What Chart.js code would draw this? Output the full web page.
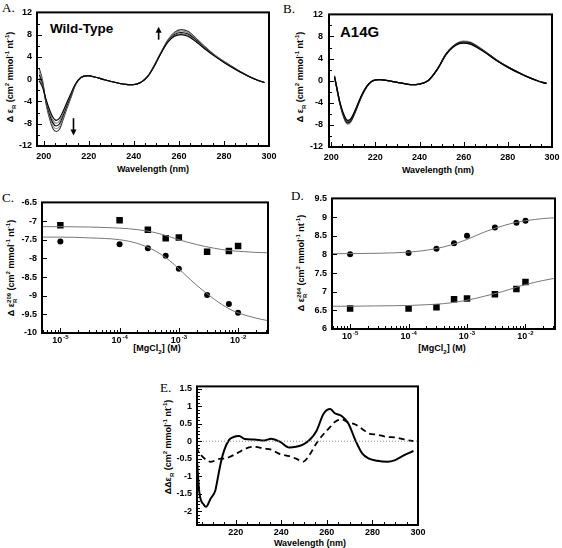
<!DOCTYPE html>
<html>
<head>
<meta charset="utf-8">
<script src="https://cdn.jsdelivr.net/npm/chart.js@4.4.1/dist/chart.umd.min.js"></script>
<style>
  body { margin: 0; background: #fff; width: 562px; height: 548px; position: relative; overflow: hidden; }
  canvas { position: absolute; }
  .lbl { position: absolute; font: 13px "Liberation Serif", "Times New Roman", serif; color: #000; }
  .big { position: absolute; font: bold 14px "Liberation Sans", Arial, sans-serif; color: #000; }
  .tt { position: absolute; font: bold 9px "Liberation Sans", Arial, sans-serif; color: #000; white-space: nowrap; transform: translate(-50%, -50%); }
  .yt { transform: translate(-50%, -50%) rotate(-90deg); }
  .tt sub, .tt sup { font-size: 6px; line-height: 0; }
  .st { display: inline-block; vertical-align: middle; font-size: 6px; line-height: 6px; }
  .st span { display: block; }
</style>
</head>
<body>
<div class="lbl" style="left:2px;top:0px">A.</div>
<div class="lbl" style="left:283px;top:1px">B.</div>
<div class="lbl" style="left:2px;top:190px">C.</div>
<div class="lbl" style="left:291px;top:188px">D.</div>
<div class="lbl" style="left:160px;top:380px">E.</div>

<div class="big" style="left:50px;top:21px;font-size:13.5px">Wild-Type</div>
<div class="big" style="left:340px;top:23px;font-size:15px">A14G</div>

<div class="tt yt" style="left:10px;top:77px">Δ ε<sub>R</sub> (cm<sup>2</sup> mmol<sup>-1</sup> nt<sup>-1</sup>)</div>
<div class="tt yt" style="left:300px;top:77px">Δ ε<sub>R</sub> (cm<sup>2</sup> mmol<sup>-1</sup> nt<sup>-1</sup>)</div>
<div class="tt yt" style="left:12px;top:268px">Δ ε<span class="st"><span>209</span><span>R</span></span> (cm<sup>2</sup> mmol<sup>-1</sup> nt<sup>-1</sup>)</div>
<div class="tt yt" style="left:302px;top:263px">Δ ε<span class="st"><span>264</span><span>R</span></span> (cm<sup>2</sup> mmol<sup>-1</sup> nt<sup>-1</sup>)</div>
<div class="tt yt" style="left:168px;top:447px">ΔΔε<sub>R</sub> (cm<sup>2</sup> mmol<sup>-1</sup> nt<sup>-1</sup>)</div>

<div class="tt" style="left:153px;top:169px">Wavelength (nm)</div>
<div class="tt" style="left:438px;top:170px">Wavelength (nm)</div>
<div class="tt" style="left:157px;top:348px">[MgCl<sub>2</sub>] (M)</div>
<div class="tt" style="left:442px;top:348px">[MgCl<sub>2</sub>] (M)</div>
<div class="tt" style="left:310px;top:543px">Wavelength (nm)</div>

<script>
// ---- data ----
// A: wild-type spectra
const aWave = [198, 199.5, 201, 202.5, 204, 205.5, 207, 208.5, 210, 212, 214, 216.5, 219.5, 223, 227, 231, 235, 239.5, 243, 246, 249, 252, 255, 258, 261, 264, 268, 272, 276, 280, 284, 288, 292, 295, 298];
const aWt1 = [-0.3, -1.5, -3.6, -5.4, -6.8, -7.4, -7.0, -5.8, -4.4, -2.6, -0.9, 0.3, 0.65, 0.35, -0.1, -0.5, -0.85, -1.0, -0.6, 0.4, 2.3, 4.6, 6.6, 7.7, 8.0, 7.7, 6.6, 5.3, 4.1, 3.0, 2.0, 1.1, 0.3, -0.2, -0.6];
const aWt2 = [0.2, -1.2, -3.8, -5.8, -7.3, -7.9, -7.5, -6.2, -4.7, -2.8, -0.95, 0.3, 0.65, 0.35, -0.1, -0.5, -0.85, -1.0, -0.6, 0.4, 2.3, 4.6, 6.7, 7.85, 8.2, 7.9, 6.75, 5.4, 4.15, 3.05, 2.05, 1.1, 0.3, -0.2, -0.6];
const aWt3 = [0.8, -0.9, -4.0, -6.2, -7.8, -8.4, -8.0, -6.6, -5.0, -3.0, -1.0, 0.3, 0.65, 0.35, -0.1, -0.5, -0.85, -1.0, -0.6, 0.4, 2.35, 4.7, 6.8, 8.0, 8.4, 8.1, 6.9, 5.5, 4.2, 3.1, 2.1, 1.15, 0.3, -0.2, -0.6];
const aWt4 = [1.4, -0.6, -4.2, -6.6, -8.3, -8.9, -8.5, -7.0, -5.3, -3.2, -1.05, 0.3, 0.65, 0.35, -0.1, -0.5, -0.85, -1.0, -0.6, 0.45, 2.4, 4.75, 6.9, 8.2, 8.65, 8.35, 7.05, 5.6, 4.25, 3.15, 2.15, 1.2, 0.35, -0.2, -0.6];
const aWt5 = [2.0, -0.3, -4.4, -7.0, -8.8, -9.4, -9.0, -7.4, -5.6, -3.4, -1.1, 0.3, 0.65, 0.35, -0.1, -0.5, -0.85, -1.0, -0.6, 0.45, 2.45, 4.8, 7.0, 8.4, 8.9, 8.6, 7.2, 5.7, 4.3, 3.2, 2.2, 1.2, 0.35, -0.2, -0.6];

// B: A14G spectra
const bWave = [201.5, 202.5, 204, 206, 207.5, 209, 211, 213, 215, 217, 219, 222, 225, 228, 232, 236, 240, 244, 248, 252, 255, 258, 260, 263, 266, 270, 275, 280, 285, 290, 294, 297.5];
const bMg1 = [0.6, -1.2, -4.0, -6.4, -7.2, -6.8, -5.2, -3.3, -1.7, -0.6, 0.0, 0.2, 0.05, -0.15, -0.45, -0.7, -0.6, 0.05, 2.0, 4.7, 6.0, 6.7, 6.8, 6.6, 6.0, 5.0, 3.6, 2.4, 1.4, 0.5, -0.1, -0.5];
const bMg2 = [0.7, -1.2, -4.1, -6.6, -7.45, -7.0, -5.35, -3.4, -1.75, -0.6, 0.0, 0.2, 0.05, -0.15, -0.45, -0.7, -0.6, 0.05, 2.0, 4.75, 6.1, 6.8, 6.9, 6.7, 6.1, 5.1, 3.65, 2.45, 1.4, 0.5, -0.1, -0.5];
const bMg3 = [0.8, -1.3, -4.2, -6.8, -7.65, -7.2, -5.5, -3.5, -1.8, -0.6, 0.0, 0.2, 0.05, -0.15, -0.45, -0.7, -0.6, 0.05, 2.05, 4.8, 6.15, 6.9, 7.0, 6.85, 6.2, 5.15, 3.7, 2.5, 1.45, 0.5, -0.1, -0.5];
const bMg4 = [0.9, -1.3, -4.3, -7.0, -7.85, -7.4, -5.6, -3.6, -1.85, -0.6, 0.0, 0.2, 0.05, -0.15, -0.45, -0.7, -0.6, 0.05, 2.05, 4.85, 6.2, 7.0, 7.15, 7.0, 6.3, 5.2, 3.75, 2.5, 1.45, 0.5, -0.1, -0.5];

// C, D: titrations with MgCl2 (M)
const mgConc = [1e-5, 1e-4, 3e-4, 6e-4, 1e-3, 3e-3, 7e-3, 1e-2];
const cSquares = [-7.11, -6.98, -7.23, -7.46, -7.44, -7.82, -7.80, -7.67];
const cCircles = [-7.55, -7.62, -7.73, -7.93, -8.28, -8.98, -9.22, -9.46];
const dCircles = [8.0, 8.04, 8.15, 8.3, 8.5, 8.72, 8.85, 8.9];
const dSquares = [6.55, 6.55, 6.58, 6.8, 6.82, 6.93, 7.07, 7.26];
const fitConc = [5e-6, 1e-5, 3e-5, 1e-4, 2e-4, 4e-4, 7e-4, 1e-3, 2e-3, 4e-3, 7e-3, 1e-2, 2e-2, 3.2e-2];
const cFitSquares = [-7.15, -7.15, -7.16, -7.19, -7.23, -7.31, -7.42, -7.5, -7.63, -7.73, -7.79, -7.81, -7.84, -7.85];
const cFitCircles = [-7.43, -7.43, -7.45, -7.5, -7.6, -7.8, -8.06, -8.28, -8.72, -9.1, -9.35, -9.46, -9.6, -9.67];
const dFitCircles = [8.02, 8.02, 8.03, 8.06, 8.11, 8.2, 8.31, 8.4, 8.6, 8.76, 8.86, 8.9, 8.96, 8.98];
const dFitSquares = [6.61, 6.61, 6.62, 6.63, 6.65, 6.68, 6.73, 6.77, 6.88, 7.0, 7.12, 7.19, 7.3, 7.36];

// E: difference spectra
const eWave = [202.5, 204, 206, 207, 209, 211, 212, 213.5, 215, 217, 219, 221.5, 224, 228, 232.5, 235.5, 239.5, 243.5, 246.5, 249.5, 252.5, 255.5, 258.5, 261.5, 263.5, 266.5, 269.5, 272.5, 275.5, 278.5, 282, 286.5, 290, 294, 298];
const eSolid = [0.0, -1.45, -1.82, -1.88, -1.64, -1.42, -1.1, -0.6, -0.25, 0.03, 0.12, 0.15, 0.06, 0.05, 0.02, 0.07, -0.02, -0.18, -0.16, -0.1, 0.04, 0.3, 0.78, 0.92, 0.8, 0.72, 0.5, 0.03, -0.35, -0.5, -0.56, -0.59, -0.54, -0.4, -0.28];
const eDashed = [-0.15, -0.33, -0.48, -0.53, -0.59, -0.55, -0.52, -0.5, -0.5, -0.46, -0.4, -0.31, -0.22, -0.16, -0.21, -0.24, -0.37, -0.43, -0.5, -0.59, -0.38, -0.05, 0.2, 0.41, 0.55, 0.62, 0.54, 0.48, 0.35, 0.22, 0.19, 0.12, 0.11, 0.05, 0.0];
const eZero = [203, 300];

// tick labels
const waveTicks = [200, 220, 240, 260, 280, 300];
const eWaveTicks = [220, 240, 260, 280, 300];
const specTicks = [-12, -8, -4, 0, 4, 8, 12];
const concTicks = [1e-5, 1e-4, 1e-3, 1e-2];
const concExps = ['-5', '-4', '-3', '-2'];
const cTicks = [-10, -9.5, -9, -8.5, -8, -7.5, -7, -6.5];
const dTicks = [6, 6.5, 7, 7.5, 8, 8.5, 9, 9.5];
const eTicks = [-2, -1.5, -1, -0.5, 0, 0.5, 1, 1.5];

// ---- layout ----
const YW = 40, PT = 10, PR = 14, XH = 24;
const FAMILY = '"Liberation Sans", Arial, sans-serif';
const FONT = {family: FAMILY, size: 9, weight: 'bold', lineHeight: 1.2};

function range(a, b, s) {
  const out = [];
  for (let v = a; v <= b + 1e-9; v += s) out.push(+v.toFixed(6));
  return out;
}
function logMinor(lo, hi) {
  const out = [];
  for (let e = -6; e <= -1; e++) for (let k = 2; k <= 9; k++) {
    const v = k * Math.pow(10, e);
    if (v > lo && v < hi) out.push(v);
  }
  return out;
}
const pts = (xs, ys) => xs.map((x, i) => ({x, y: ys[i]}));

function line(xs, ys, color, width, dash) {
  return {data: pts(xs, ys), borderColor: color, borderWidth: width, borderDash: dash || [],
    pointRadius: 0, cubicInterpolationMode: 'monotone', fill: false};
}
function marks(xs, ys, style, r) {
  return {data: pts(xs, ys), showLine: false, pointStyle: style, pointRadius: r,
    pointBackgroundColor: '#000', pointBorderColor: '#000', pointBorderWidth: 0};
}

const framePlugin = {
  id: 'frame',
  afterDatasetsDraw(chart) {
    const f = chart.canvas.frameCfg;
    const {ctx, chartArea: a} = chart;
    const x = chart.scales.x, y = chart.scales.y;
    ctx.save();
    ctx.strokeStyle = '#000';
    ctx.fillStyle = '#000';
    ctx.lineWidth = 1;
    ctx.beginPath();
    const tx = (v, len) => { const p = Math.round(x.getPixelForValue(v)) + 0.5; ctx.moveTo(p, a.bottom); ctx.lineTo(p, a.bottom - len); };
    const ty = (v, len) => { const p = Math.round(y.getPixelForValue(v)) + 0.5; ctx.moveTo(a.left, p); ctx.lineTo(a.left + len, p); };
    f.xMinor.forEach(v => tx(v, 3));
    f.xMajor.forEach(v => tx(v, 5));
    f.yMinor.forEach(v => ty(v, 3));
    f.yMajor.forEach(v => ty(v, 5));
    ctx.stroke();
    // power-of-ten labels: "10" with a raised exponent
    if (f.exps) {
      ctx.textBaseline = 'alphabetic';
      ctx.textAlign = 'left';
      f.xMajor.forEach((v, i) => {
        const p = x.getPixelForValue(v);
        ctx.font = 'bold 9px ' + FAMILY;
        const wb = ctx.measureText('10').width;
        ctx.font = 'bold 6px ' + FAMILY;
        const we = ctx.measureText(f.exps[i]).width;
        const left = p - (wb + we + 1) / 2, base = a.bottom + 10;
        ctx.font = 'bold 9px ' + FAMILY;
        ctx.fillText('10', left, base);
        ctx.font = 'bold 6px ' + FAMILY;
        ctx.fillText(f.exps[i], left + wb + 1, base - 4);
      });
    }
    (f.arrows || []).forEach(ar => {
      const px = x.getPixelForValue(ar.x);
      const p0 = y.getPixelForValue(ar.from), p1 = y.getPixelForValue(ar.to);
      const dir = Math.sign(p1 - p0);
      ctx.lineWidth = 1.6;
      ctx.beginPath(); ctx.moveTo(px, p0); ctx.lineTo(px, p1 - dir * 5); ctx.stroke();
      ctx.beginPath(); ctx.moveTo(px, p1); ctx.lineTo(px - 3, p1 - dir * 6); ctx.lineTo(px + 3, p1 - dir * 6); ctx.closePath(); ctx.fill();
    });
    ctx.lineWidth = 2;
    ctx.strokeRect(a.left, a.top, a.right - a.left, a.bottom - a.top);
    ctx.restore();
  }
};

function axis(c, horizontal) {
  return {
    type: c.type || 'linear', min: c.min, max: c.max, bounds: 'data',
    grid: {display: false, drawTicks: false},
    border: {display: false},
    ticks: {
      display: !c.custom,
      color: '#000', font: FONT, padding: c.pad, autoSkip: false, maxRotation: 0, minRotation: 0,
      callback: v => String(v)
    },
    afterBuildTicks: s => { s.ticks = c.ticks.map(v => ({value: v})); },
    afterFit: s => { if (horizontal) s.height = XH; else s.width = YW; }
  };
}

function panel(box, xc, yc, datasets, frame) {
  const [L, T, R, B] = box;
  const cv = document.createElement('canvas');
  const w = R - L + YW + PR, h = B - T + PT + XH;
  cv.width = w; cv.height = h;
  cv.style.left = (L - YW) + 'px'; cv.style.top = (T - PT) + 'px';
  cv.style.width = w + 'px'; cv.style.height = h + 'px';
  cv.frameCfg = frame;
  document.body.appendChild(cv);
  new Chart(cv, {
    type: 'line',
    data: {datasets},
    options: {
      responsive: false, animation: false, events: [],
      layout: {padding: {left: 0, top: PT, right: PR, bottom: 0}},
      plugins: {legend: {display: false}, tooltip: {enabled: false}},
      scales: {x: axis(xc, true), y: axis(yc, false)}
    },
    plugins: [framePlugin]
  });
}

// A
panel([37, 12, 269, 146],
  {min: 197, max: 300, ticks: waveTicks, pad: 5},
  {min: -12, max: 12, ticks: specTicks, pad: 5},
  [line(aWave, aWt1, '#000', 1.1), line(aWave, aWt2, '#777', 1.1), line(aWave, aWt3, '#000', 1.1),
   line(aWave, aWt4, '#888', 1.1), line(aWave, aWt5, '#333', 1.1)],
  {xMajor: waveTicks, xMinor: range(200, 300, 5), yMajor: specTicks, yMinor: range(-12, 12, 2),
   arrows: [{x: 251, from: 7.1, to: 9.4}, {x: 213.2, from: -7.0, to: -10.1}]});

// B
panel([329, 13, 552, 147],
  {min: 199, max: 300, ticks: waveTicks, pad: 5},
  {min: -12, max: 12, ticks: specTicks, pad: 6},
  [line(bWave, bMg1, '#000', 1.3), line(bWave, bMg2, '#444', 1.3), line(bWave, bMg3, '#000', 1.3),
   line(bWave, bMg4, '#777', 1.3)],
  {xMajor: waveTicks, xMinor: range(200, 300, 5), yMajor: specTicks, yMinor: range(-12, 12, 2)});

// C
panel([42, 202, 268, 333],
  {type: 'logarithmic', min: 4.9e-6, max: 3.2e-2, ticks: concTicks, custom: true},
  {min: -10, max: -6.5, ticks: cTicks, pad: 5},
  [line(fitConc, cFitSquares, '#777', 1), line(fitConc, cFitCircles, '#777', 1),
   marks(mgConc, cSquares, 'rect', 4.6), marks(mgConc, cCircles, 'circle', 3)],
  {xMajor: concTicks, exps: concExps, xMinor: logMinor(4.9e-6, 3.2e-2), yMajor: cTicks, yMinor: []});

// D
panel([332, 198, 555, 329],
  {type: 'logarithmic', min: 4.9e-6, max: 3.2e-2, ticks: concTicks, custom: true},
  {min: 6, max: 9.5, ticks: dTicks, pad: 5},
  [line(fitConc, dFitCircles, '#777', 1), line(fitConc, dFitSquares, '#777', 1),
   marks(mgConc, dCircles, 'circle', 3), marks(mgConc, dSquares, 'rect', 4.6)],
  {xMajor: concTicks, exps: concExps, xMinor: logMinor(4.9e-6, 3.2e-2), yMajor: dTicks, yMinor: []});

// E
panel([197, 386, 418, 525],
  {min: 203, max: 300, ticks: eWaveTicks, pad: 2},
  {min: -2.4, max: 1.57, ticks: eTicks, pad: 5},
  [line(eZero, [0, 0], '#888', 1, [1, 2]), line(eWave, eSolid, '#000', 2), line(eWave, eDashed, '#000', 1.8, [6, 4])],
  {xMajor: eWaveTicks, xMinor: range(205, 300, 5), yMajor: eTicks, yMinor: range(-2.4, 1.5, 0.1)});
</script>
</body>
</html>
